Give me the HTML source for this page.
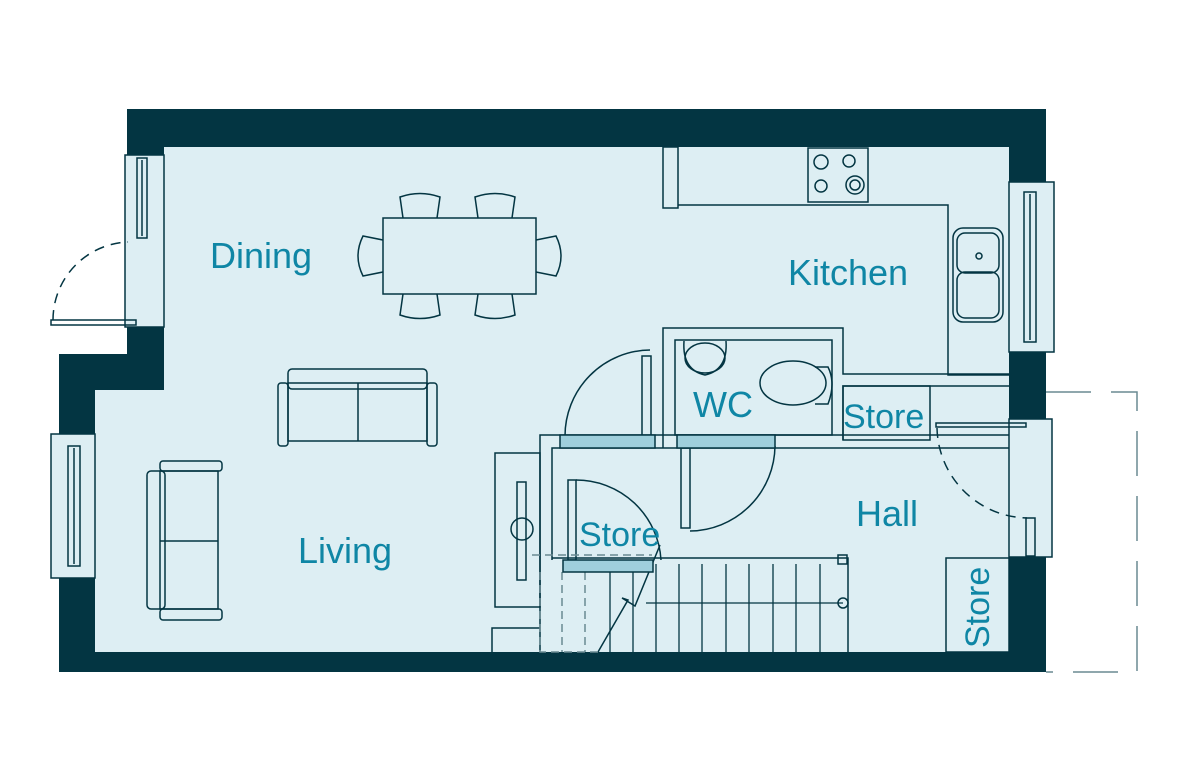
<!DOCTYPE html>
<html><head><meta charset="utf-8"><style>
html,body{margin:0;padding:0;background:#fff;}
svg{display:block}
text{font-family:"Liberation Sans",sans-serif;fill:#0f86a5;}
</style></head><body>
<svg width="1190" height="784" viewBox="0 0 1190 784" xmlns="http://www.w3.org/2000/svg">
<polygon points="164,147 1009,147 1009,652 95,652 95,390 164,390" fill="#ddeef3"/>
<rect x="125" y="155" width="39" height="172" fill="#ddeef3" stroke="#033542" stroke-width="1.5"/>
<rect x="51" y="434" width="44" height="144" fill="#ddeef3" stroke="#033542" stroke-width="1.5"/>
<rect x="1009" y="182" width="45" height="170" fill="#ddeef3" stroke="#033542" stroke-width="1.5"/>
<rect x="1009" y="419" width="43" height="138" fill="#ddeef3" stroke="#033542" stroke-width="1.5"/>
<g fill="#033542">
<rect x="127" y="109" width="919" height="38"/>
<rect x="127" y="109" width="37" height="46"/>
<rect x="127" y="327" width="37" height="63"/>
<rect x="59" y="354" width="105" height="36"/>
<rect x="59" y="354" width="36" height="80"/>
<rect x="59" y="578" width="36" height="94"/>
<rect x="59" y="652" width="987" height="20"/>
<rect x="1009" y="109" width="37" height="73"/>
<rect x="1009" y="352" width="37" height="67"/>
<rect x="1009" y="557" width="37" height="115"/>
</g>
<g fill="none" stroke="#033542" stroke-width="1.5">
<rect x="137" y="158" width="10" height="80"/>
<line x1="142" y1="160" x2="142" y2="236"/>
<rect x="68" y="446" width="12" height="120"/><line x1="74" y1="448" x2="74" y2="564"/>
<rect x="1024" y="192" width="12" height="150"/><line x1="1030" y1="194" x2="1030" y2="340"/>
<rect x="51" y="320" width="85" height="5"/>
<path d="M53,320 A78,78 0 0 1 128,242" stroke-dasharray="10,7"/>
<rect x="936" y="423" width="90" height="4"/>
<path d="M937,428 A92,92 0 0 0 1027,518" stroke-dasharray="10,7"/>
<rect x="1026" y="518" width="9" height="38"/>
<path d="M1046,392 H1137 V672 H1046" stroke="#6a8a92" stroke-dasharray="45,20"/>
<rect x="663" y="147" width="15" height="61"/>
<path d="M678,205 H948 V375 H1009"/>
<rect x="808" y="148" width="60" height="54"/>
<circle cx="821" cy="162" r="7"/><circle cx="849" cy="161" r="6"/>
<circle cx="821" cy="186" r="6"/><circle cx="855" cy="185" r="9"/><circle cx="855" cy="185" r="5"/>
<rect x="953" y="228" width="50" height="94" rx="10"/>
<rect x="957" y="233" width="42" height="40" rx="8"/>
<rect x="957" y="272" width="42" height="46" rx="8"/>
<circle cx="979" cy="256" r="3"/>
<path d="M663,448 V328 H843 V374 H1009"/>
<rect x="675" y="340" width="157" height="95"/>
<ellipse cx="705" cy="358" rx="20" ry="15"/>
<path d="M684,341 Q682,370 705,375 Q728,370 726,341"/>
<ellipse cx="793" cy="383" rx="33" ry="22"/>
<path d="M815,367 H828 Q836,383 828,404 H815"/>
<path d="M843,440 V386 H1009"/>
<rect x="843" y="386" width="87" height="54"/>
<path d="M540,652 V435 H1009"/>
<path d="M552,560 V448 H1009"/>
<rect x="642" y="356" width="9" height="80"/>
<path d="M565,436 A86,86 0 0 1 650,350"/>
<rect x="681" y="448" width="9" height="80"/>
<path d="M690,531 A86,86 0 0 0 775,446"/>
<rect x="568" y="480" width="8" height="80"/>
<path d="M576,480 A85,85 0 0 1 661,560"/>
<rect x="495" y="453" width="45" height="154"/>
<rect x="517" y="482" width="9" height="98"/>
<circle cx="522" cy="529" r="11"/>
<path d="M492,652 V628 H540"/>
<path d="M552,558 H848 V652"/>
<rect x="838" y="555" width="9" height="9"/>
<g stroke-width="1.3">
<line x1="610" y1="572" x2="610" y2="652"/><line x1="633" y1="572" x2="633" y2="652"/>
<line x1="656" y1="564" x2="656" y2="652"/><line x1="679" y1="564" x2="679" y2="652"/>
<line x1="702" y1="564" x2="702" y2="652"/><line x1="726" y1="564" x2="726" y2="652"/>
<line x1="749" y1="564" x2="749" y2="652"/><line x1="773" y1="564" x2="773" y2="652"/>
<line x1="796" y1="564" x2="796" y2="652"/><line x1="820" y1="564" x2="820" y2="652"/>
<line x1="646" y1="603" x2="843" y2="603"/>
</g>
<circle cx="843" cy="603" r="5"/>
<path d="M598,652 L628,600 L622,598 L635,606 L660,545"/>
<path d="M540,572 V652 H598 M562,572 V652 M585,572 V652 M532,555 H652" stroke="#6a8a92" stroke-dasharray="8,5"/>
<rect x="383" y="218" width="153" height="76"/>
<path d="M403,218 L400,197 Q420,190 440,197 L437,218"/>
<path d="M478,218 L475,197 Q495,190 515,197 L512,218"/>
<path d="M403,294 L400,315 Q420,322 440,315 L437,294"/>
<path d="M478,294 L475,315 Q495,322 515,315 L512,294"/>
<path d="M383,240 L363,236 Q353,256 363,276 L383,272"/>
<path d="M536,240 L556,236 Q566,256 556,276 L536,272"/>
<rect x="288" y="369" width="139" height="20" rx="4"/>
<rect x="278" y="383" width="10" height="63" rx="3"/>
<rect x="427" y="383" width="10" height="63" rx="3"/>
<rect x="288" y="383" width="139" height="58"/><line x1="358" y1="383" x2="358" y2="441"/>
<rect x="147" y="471" width="18" height="138" rx="4"/>
<rect x="160" y="461" width="62" height="10" rx="3"/>
<rect x="160" y="609" width="62" height="11" rx="3"/>
<rect x="160" y="471" width="58" height="138"/><line x1="160" y1="541" x2="218" y2="541"/>
<rect x="946" y="558" width="63" height="94"/>
</g>
<g fill="#9fcfdc" stroke="#033542" stroke-width="1.5">
<rect x="560" y="435" width="95" height="13"/>
<rect x="677" y="435" width="98" height="13"/>
<rect x="563" y="560" width="90" height="12"/>
</g>
<text x="210" y="268" font-size="36">Dining</text>
<text x="788" y="285" font-size="36">Kitchen</text>
<text x="693" y="417" font-size="36">WC</text>
<text x="843" y="428" font-size="34">Store</text>
<text x="856" y="526" font-size="36">Hall</text>
<text x="579" y="546" font-size="34">Store</text>
<text x="298" y="563" font-size="36">Living</text>
<text transform="translate(989,648) rotate(-90)" font-size="34">Store</text>
</svg>
</body></html>
